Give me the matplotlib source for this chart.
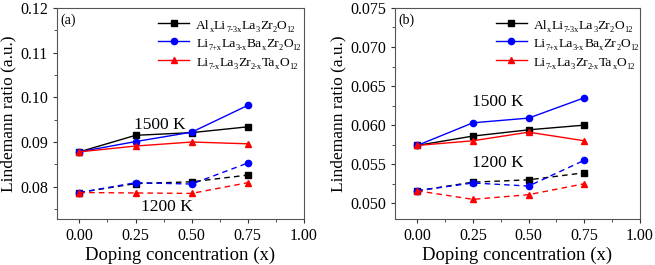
import re
import matplotlib
matplotlib.use('Agg')
import matplotlib.pyplot as plt
from matplotlib.ticker import MultipleLocator, AutoMinorLocator

plt.rcParams['font.family'] = 'Liberation Serif'

# Data
doping = [0.0, 0.25, 0.5, 0.75]
labels = ['Al_{x}Li_{7-3x}La_{3}Zr_{2}O_{12}',
          'Li_{7+x}La_{3-x}Ba_{x}Zr_{2}O_{12}',
          'Li_{7-x}La_{3}Zr_{2-x}Ta_{x}O_{12}']

# panel (a)
a_1500_al = [0.0878, 0.0915, 0.0921, 0.0934]
a_1500_ba = [0.0878, 0.0901, 0.0922, 0.0982]
a_1500_ta = [0.0878, 0.0891, 0.0900, 0.0896]
a_1200_al = [0.0787, 0.0807, 0.0811, 0.0826]
a_1200_ba = [0.0787, 0.0809, 0.0806, 0.0853]
a_1200_ta = [0.0787, 0.0786, 0.0785, 0.0809]

# panel (b)
b_1500_al = [0.0574, 0.0586, 0.0594, 0.0600]
b_1500_ba = [0.0574, 0.0603, 0.0609, 0.0635]
b_1500_ta = [0.0574, 0.0580, 0.0591, 0.0580]
b_1200_al = [0.0516, 0.0527, 0.0530, 0.0539]
b_1200_ba = [0.0516, 0.0526, 0.0522, 0.0555]
b_1200_ta = [0.0516, 0.0505, 0.0511, 0.0525]

colors = ['black', '#0000ff', '#ff0000']
markers = ['s', 'o', '^']
LEG_FS = 9.7
DPI = 100

fig = plt.figure(figsize=(6.55, 2.65), dpi=DPI)
ax_a = fig.add_axes([0.087, 0.174, 0.377, 0.796])
ax_b = fig.add_axes([0.603, 0.174, 0.374, 0.796])


def split_formula(s):
    # 'Al_{x}Li_{7-3x}' -> [('Al', False), ('x', True), ...]
    parts = []
    for main, sub in re.findall(r'([^_]+?)_\{([^}]*)\}', s):
        parts.append((main, False))
        parts.append((sub, True))
    return parts


def plain(s):
    return ''.join(p for p, _ in split_formula(s))


def draw_panel(ax, hot, cold, ylim, ymajor, tag, pos_hot, pos_cold):
    for i in range(3):
        ax.plot(doping, hot[i], color=colors[i], marker=markers[i], ms=4.5, lw=1.0, label=plain(labels[i]))
        ax.plot(doping, cold[i], color=colors[i], marker=markers[i], ms=4.5, lw=1.0, ls=(0, (4, 3)))
    ax.set_xlim(-0.1, 1.0)
    ax.set_ylim(*ylim)
    ax.xaxis.set_major_locator(MultipleLocator(0.25))
    ax.yaxis.set_major_locator(MultipleLocator(ymajor))
    ax.xaxis.set_minor_locator(AutoMinorLocator(2))
    ax.yaxis.set_minor_locator(AutoMinorLocator(2))
    ax.tick_params(which='both', direction='out', top=False, right=False, labelsize=11.5, colors='#333333')
    ax.tick_params(which='major', length=3)
    ax.tick_params(which='minor', length=2)
    for lab in ax.get_xticklabels() + ax.get_yticklabels():
        lab.set_color('black')
    for s in ax.spines.values():
        s.set_color('#555555')
    ax.set_xlabel('Doping concentration (x)', fontsize=13.5, labelpad=2)
    ax.set_ylabel('Lindemann ratio (a.u.)', fontsize=12.5, labelpad=3)
    ax.text(0.015, 0.975, tag, transform=ax.transAxes, fontsize=10, va='top', ha='left')
    ax.text(pos_hot[0], pos_hot[1], '1500 K', fontsize=12.5, ha='center', va='center')
    ax.text(pos_cold[0], pos_cold[1], '1200 K', fontsize=12.5, ha='center', va='center')
    leg = ax.legend(loc='upper left', bbox_to_anchor=(0.37, 1.0), frameon=False, fontsize=LEG_FS,
                    handlelength=2.3, handletextpad=0.5, labelspacing=0.45, borderaxespad=0.0,
                    borderpad=0.75)
    return leg


legends = [
    draw_panel(ax_a, [a_1500_al, a_1500_ba, a_1500_ta], [a_1200_al, a_1200_ba, a_1200_ta],
               (0.0728, 0.12), 0.01, '(a)', (0.36, 0.0937), (0.39, 0.0754)),
    draw_panel(ax_b, [b_1500_al, b_1500_ba, b_1500_ta], [b_1200_al, b_1200_ba, b_1200_ta],
               (0.048, 0.075), 0.005, '(b)', (0.36, 0.0630), (0.36, 0.0551)),
]

# swap the plain legend texts for ones with real subscripts
fig.canvas.draw()
renderer = fig.canvas.get_renderer()
W, H = fig.bbox.width, fig.bbox.height
fs_px = LEG_FS * DPI / 72
for leg in legends:
    for txt, lab in zip(leg.get_texts(), labels):
        bb = txt.get_window_extent(renderer)
        txt.set_visible(False)
        x = bb.x0
        base = (bb.y0 + bb.y1) / 2 - 0.33 * fs_px
        for piece, is_sub in split_formula(lab):
            size = LEG_FS * 0.62 if is_sub else LEG_FS
            y = base - 0.2 * fs_px if is_sub else base
            t = fig.text(x / W, y / H, piece, fontsize=size, va='baseline', ha='left')
            x += t.get_window_extent(renderer).width

fig.savefig('out.png', dpi=DPI)
